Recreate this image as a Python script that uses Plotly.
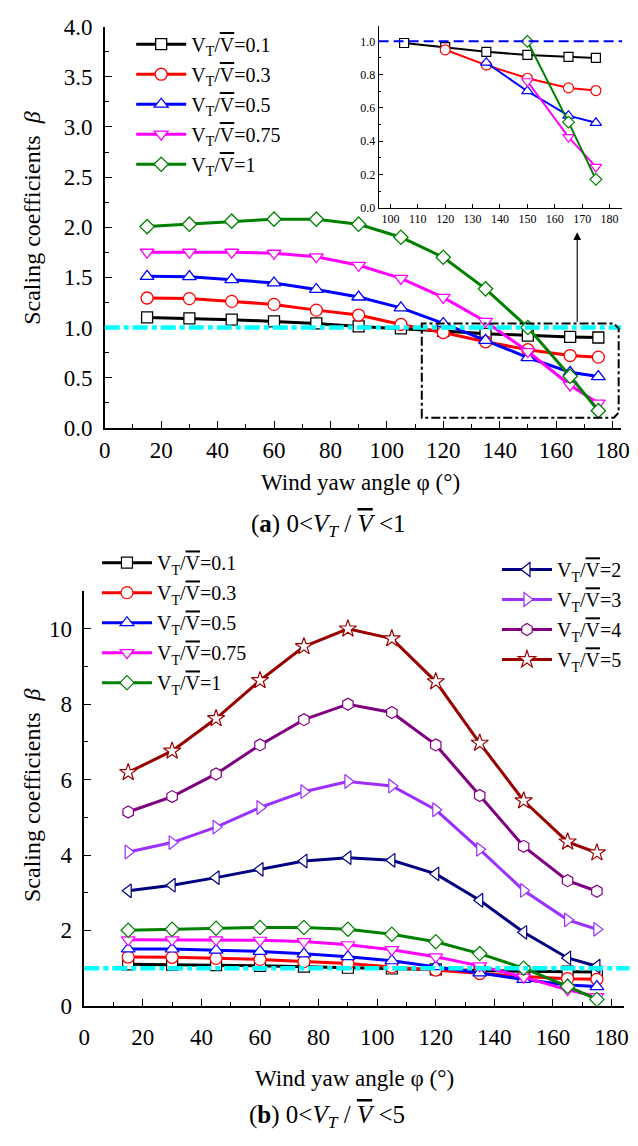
import plotly.graph_objects as go

# ---------------- data ----------------
angles = [15, 30, 45, 60, 75, 90, 105, 120, 135, 150, 165, 175]

beta_01 = [1.10, 1.09, 1.078, 1.06, 1.04, 1.01, 0.99, 0.965, 0.937, 0.918, 0.906, 0.90]
beta_03 = [1.294, 1.288, 1.26, 1.23, 1.173, 1.124, 1.03, 0.949, 0.857, 0.778, 0.72, 0.704]
beta_05 = [1.51, 1.507, 1.477, 1.444, 1.379, 1.304, 1.196, 1.04, 0.872, 0.70, 0.553, 0.51]
beta_075 = [1.75, 1.75, 1.75, 1.74, 1.705, 1.62, 1.49, 1.30, 1.06, 0.76, 0.424, 0.245]
beta_1 = [2.006, 2.03, 2.06, 2.08, 2.08, 2.03, 1.90, 1.70, 1.385, 1.00, 0.514, 0.17]

beta_2 = [3.05, 3.20, 3.40, 3.62, 3.84, 3.93, 3.86, 3.50, 2.80, 1.95, 1.27, 1.05]
beta_3 = [4.08, 4.33, 4.74, 5.26, 5.68, 5.95, 5.83, 5.20, 4.15, 3.06, 2.28, 2.03]
beta_4 = [5.14, 5.55, 6.15, 6.92, 7.59, 8.00, 7.78, 6.92, 5.58, 4.23, 3.32, 3.04]
beta_5 = [6.19, 6.76, 7.62, 8.63, 9.53, 10.0, 9.74, 8.60, 6.97, 5.44, 4.35, 4.06]

ratios_low = ["0.1", "0.3", "0.5", "0.75", "1"]
ratios_high = ["2", "3", "4", "5"]

x_ticks = [0, 20, 40, 60, 80, 100, 120, 140, 160, 180]
inset_x_ticks = [100, 110, 120, 130, 140, 150, 160, 170, 180]

# ---------------- layout helpers ----------------
W, H = 638, 1146
FONT = "Liberation Serif, Times New Roman, Times, serif"


def px(x):
    return x / W


def py(y):
    return 1 - y / H


def label(r):
    return ("V<sub>T</sub>/<span style='text-decoration:overline'>V</span>=" + r)


# (ratio, values, colour, symbol, main size, inset size)
low_series = [
    (ratios_low[0], beta_01, "#000000", "square", 11, 9),
    (ratios_low[1], beta_03, "#FF0000", "circle", 12, 10),
    (ratios_low[2], beta_05, "#0000FF", "triangle-up", 12, 10),
    (ratios_low[3], beta_075, "#FF00FF", "triangle-down", 12, 10),
    (ratios_low[4], beta_1, "#008000", "diamond", 11, 9),
]
high_series = [
    (ratios_high[0], beta_2, "#000080", "triangle-left", 12),
    (ratios_high[1], beta_3, "#9B30FF", "triangle-right", 12),
    (ratios_high[2], beta_4, "#800080", "hexagon", 12),
    (ratios_high[3], beta_5, "#990000", "star", 13),
]

fig = go.Figure()

for r, vals, col, sym, ms, _ in low_series:
    fig.add_trace(go.Scatter(
        x=angles, y=vals, mode="lines+markers", name=label(r),
        line=dict(color=col, width=3),
        marker=dict(symbol=sym, size=ms, color="white", line=dict(color=col, width=1.3)),
        xaxis="x", yaxis="y", legend="legend", legendgroup="a" + r))

for r, vals, col, sym, _, ims in low_series:
    start = next(i for i, v in enumerate(vals) if v <= 1.0)
    fig.add_trace(go.Scatter(
        x=angles[start:], y=vals[start:], mode="lines+markers", showlegend=False,
        line=dict(color=col, width=2),
        marker=dict(symbol=sym, size=ims, color="white", line=dict(color=col, width=1.2)),
        xaxis="x2", yaxis="y2"))

for r, vals, col, sym, ms, _ in low_series:
    fig.add_trace(go.Scatter(
        x=angles, y=vals, mode="lines+markers", name=label(r),
        line=dict(color=col, width=3),
        marker=dict(symbol=sym, size=ms, color="white", line=dict(color=col, width=1.2)),
        xaxis="x3", yaxis="y3", legend="legend2", legendgroup="b" + r))
for r, vals, col, sym, ms in high_series:
    fig.add_trace(go.Scatter(
        x=angles, y=vals, mode="lines+markers", name=label(r),
        line=dict(color=col, width=3),
        marker=dict(symbol=sym, size=ms, color="white", line=dict(color=col, width=1.2)),
        xaxis="x3", yaxis="y3", legend="legend3", legendgroup="c" + r))

axis_common = dict(showline=True, linecolor="black", linewidth=1.5, showgrid=False,
                   zeroline=False, ticks="inside", ticklen=7, tickwidth=1.3,
                   tickcolor="black", tickfont=dict(family=FONT, size=23, color="black"))
inset_common = dict(showline=True, linecolor="black", linewidth=1.2, showgrid=False,
                    zeroline=False, ticks="inside", ticklen=4, tickcolor="black",
                    tickfont=dict(family=FONT, size=12, color="black"))

legend_common = dict(xanchor="left", yanchor="top", bgcolor="rgba(0,0,0,0)",
                     font=dict(family=FONT, size=20, color="black"), traceorder="grouped",
                     tracegroupgap=1, itemwidth=50)

fig.update_layout(
    width=W, height=H, margin=dict(l=0, r=0, t=0, b=0),
    paper_bgcolor="white", plot_bgcolor="white",
    font=dict(family=FONT, color="black"),
    xaxis=dict(domain=[px(101), px(629)], range=[0, 183.1], tickvals=x_ticks,
               minor=dict(dtick=10, ticks="inside", ticklen=4, tickcolor="black"),
               anchor="y", ticklabelstandoff=1, **axis_common),
    yaxis=dict(domain=[py(425), py(15)], range=[0, 4.0], dtick=0.5, tickformat=".1f",
               minor=dict(dtick=0.25, ticks="inside", ticklen=4, tickcolor="black"),
               anchor="x", ticklabelstandoff=6, **axis_common),
    xaxis2=dict(domain=[px(381), px(630)], range=[95.7, 184.6], tickvals=inset_x_ticks,
                anchor="y2", **inset_common),
    yaxis2=dict(domain=[py(200), py(14)], range=[0, 1.094], dtick=0.2, tickformat=".1f",
                anchor="x2", minor=dict(dtick=0.1, ticks="inside", ticklen=2.5, tickcolor="black"),
                **inset_common),
    xaxis3=dict(domain=[px(80), px(632)], range=[0, 184.3], tickvals=x_ticks,
                minor=dict(dtick=10, ticks="inside", ticklen=4, tickcolor="black"),
                anchor="y3", ticklabelstandoff=10, **axis_common),
    yaxis3=dict(domain=[py(1016), py(592)], range=[0, 11], dtick=2,
                minor=dict(dtick=1, ticks="inside", ticklen=4, tickcolor="black"),
                anchor="x3", ticklabelstandoff=6, **axis_common),
    legend=dict(x=px(128), y=py(13), **legend_common),
    legend2=dict(x=px(93), y=py(543), **legend_common),
    legend3=dict(x=px(502), y=py(550), **legend_common),
)

fig.add_shape(type="line", xref="x domain", yref="y", x0=0, x1=1, y0=1, y1=1,
              line=dict(color="#00FFFF", width=4.5, dash="15px,4px,5px,4px"))
fig.add_shape(type="line", xref="x3 domain", yref="y3", x0=0, x1=1.01, y0=1, y1=1,
              line=dict(color="#00FFFF", width=4.5, dash="15px,4px,5px,4px"))
fig.add_shape(type="line", xref="x2 domain", yref="y2", x0=0, x1=1, y0=1, y1=1,
              line=dict(color="#0000FF", width=2, dash="10px,5px"))
fig.add_shape(type="path", xref="x", yref="y",
              path="M 112.4,0.1 L 112.4,1.04 L 180.5,1.04 L 182.2,0.99 L 182.2,0.15 L 180.5,0.1 Z",
              line=dict(color="black", width=2, dash="9px,3px,3px,3px"))
fig.add_annotation(x=167.5, y=1.95, ax=167.5, ay=1.04, xref="x", yref="y", axref="x", ayref="y",
                   text="", showarrow=True, arrowhead=2, arrowsize=1.4, arrowwidth=1.1,
                   arrowcolor="black")

ytitle = "Scaling coefficients\u00a0 <i>β</i>"
xtitle = "Wind yaw angle φ (°)"
for (x, y) in [(27, 210), (26, 800)]:
    fig.add_annotation(x=px(x), y=py(y), xref="paper", yref="paper", text=ytitle,
                       textangle=-90, showarrow=False, xanchor="center", yanchor="middle",
                       font=dict(family=FONT, size=24, color="black"))
for (x, y) in [(362, 481), (356, 1090)]:
    fig.add_annotation(x=px(x), y=py(y), xref="paper", yref="paper", text=xtitle,
                       showarrow=False, xanchor="center", yanchor="middle",
                       font=dict(family=FONT, size=23, color="black"))
cap = "(<b>{}</b>) 0&lt;<i>V<sub>T</sub></i> / <i><span style='text-decoration:overline'>V</span></i> &lt;{}"
for (x, y, letter, hi) in [(330, 525, "a", "1"), (328, 1129, "b", "5")]:
    fig.add_annotation(x=px(x), y=py(y), xref="paper", yref="paper", text=cap.format(letter, hi),
                       showarrow=False, xanchor="center", yanchor="middle",
                       font=dict(family=FONT, size=25, color="black"))

fig.write_html("out.html")
